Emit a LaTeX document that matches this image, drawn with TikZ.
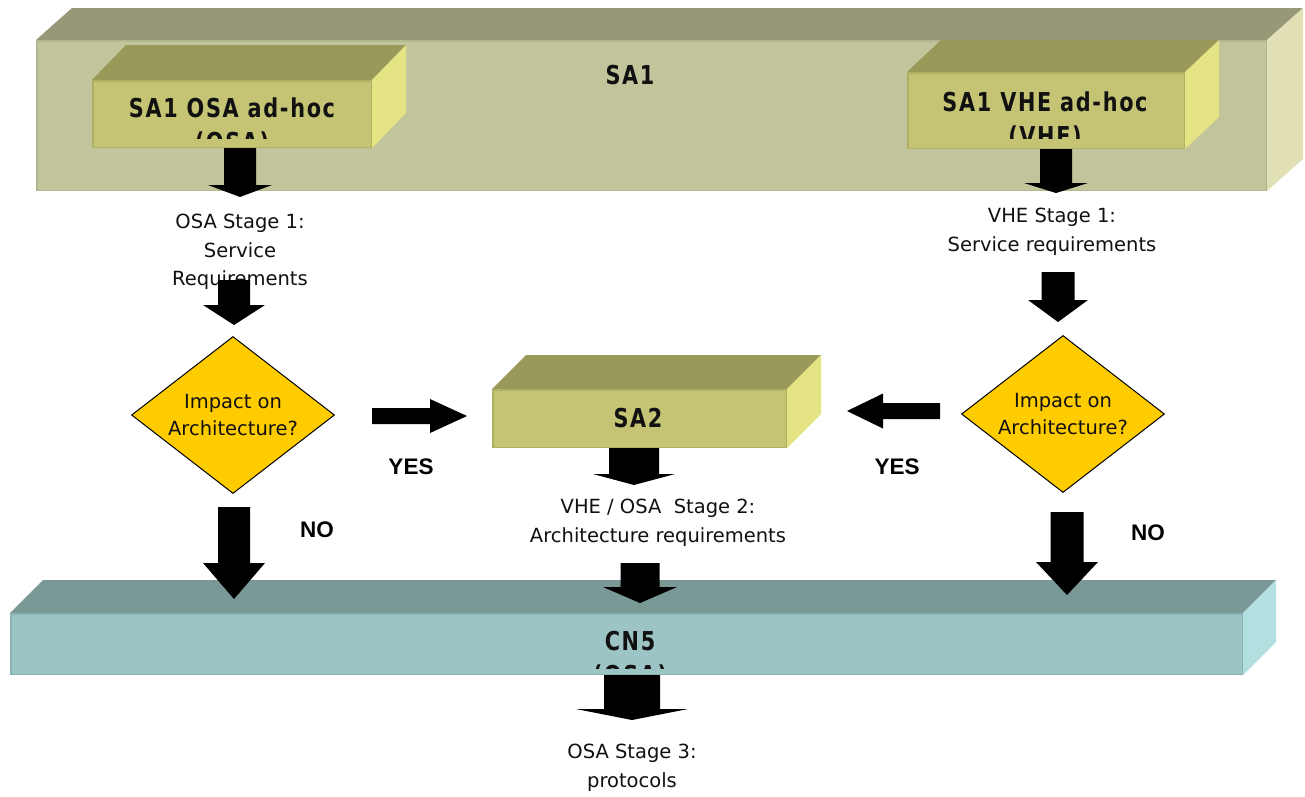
\documentclass[tikz,border=0pt]{standalone}
\usepackage{fontspec}
\setmainfont{DejaVu Sans}
\newfontfamily\lblfont{DejaVu Sans Bold}[LetterSpace=8]
\newfontfamily\yesfont{Liberation Sans Bold}
\usetikzlibrary{shapes.geometric,calc}
\definecolor{satop}{HTML}{989878}
\definecolor{safront}{HTML}{C2C49C}
\definecolor{saside}{HTML}{E0E0B4}
\definecolor{satedge}{HTML}{B4B690}
\definecolor{intop}{HTML}{99995A}
\definecolor{infront}{HTML}{C4C474}
\definecolor{inside}{HTML}{E4E484}
\definecolor{inedge}{HTML}{B0B062}
\definecolor{cntop}{HTML}{7A9896}
\definecolor{cnfront}{HTML}{9CC4C4}
\definecolor{cnside}{HTML}{B2E0E0}
\definecolor{cnedge}{HTML}{8AB2B2}
\definecolor{decision}{HTML}{FFCC00}
\definecolor{txt}{HTML}{111111}
% cuboid: #1 x1, #2 y1, #3 x2, #4 y2 (front face), #5 dx, #6 dy, #7 colour prefix
\newcommand\cuboid[7]{%
  \fill[#7top] (#1,#2) -- (#1+#5,#2-#6) -- (#3+#5,#2-#6) -- (#3,#2) -- cycle;
  \fill[#7side] (#3,#2) -- (#3+#5,#2-#6) -- (#3+#5,#4-#6) -- (#3,#4) -- cycle;
  \fill[#7front] (#1,#2) rectangle (#3,#4);
  \draw[#7edge, line width=1.5pt] (#1+0.75,#2+0.75) rectangle (#3-0.75,#4-0.75);
}
% block arrow from coordinate #1 to tip #2, shaft half-width #3, head half-width #4, head length #5
\newcommand\blockarrow[5]{%
  \path let \p1=(#1), \p2=(#2) in \pgfextra{%
    \pgfmathsetmacro\baang{atan2(\y2-\y1,\x2-\x1)}%
    \pgfmathsetmacro\balen{veclen(\x2-\x1,\y2-\y1)}%
    \xdef\BAang{\baang}\xdef\BAlen{\balen}};
  \fill[black, shift={(#1)}, x=1pt, y=1pt, rotate=\BAang]
    (0,-#3) -- (\BAlen-#5,-#3) -- (\BAlen-#5,-#4) -- (\BAlen,0)
    -- (\BAlen-#5,#4) -- (\BAlen-#5,#3) -- (0,#3) -- cycle;
}
\tikzset{
  sa1top/.style={fill=satop}, sa1side/.style={fill=saside}, sa1front/.style={fill=safront}, sa1edge/.style={draw=satedge},
  intop/.style={fill=intop}, inside/.style={fill=inside}, infront/.style={fill=infront}, inedge/.style={draw=inedge},
  cntop/.style={fill=cntop}, cnside/.style={fill=cnside}, cnfront/.style={fill=cnfront}, cnedge/.style={draw=cnedge},
  boxlabel/.style={anchor=base, inner sep=0pt, text=txt, font=\lblfont\fontsize{26}{30}\selectfont},
  bodytext/.style={align=center, inner sep=0pt, text=txt, font=\fontsize{19.5}{28.5}\selectfont},
  decide/.style={diamond, draw=black, line width=1pt, fill=decision, aspect=1.3, inner sep=0pt,
    minimum width=203pt, minimum height=157pt, align=center, text=txt, font=\fontsize{19.5}{27}\selectfont},
  yesno/.style={inner sep=0pt, font=\yesfont\fontsize{22.5}{24}\selectfont},
}
\newcommand\lbl[1]{\scalebox{0.8}[1]{#1}}
\begin{document}
\begin{tikzpicture}[x=1pt,y=-1pt]
\useasboundingbox (0,0) rectangle (1305,796);
\fill[white] (0,0) rectangle (1305,796);

% SA1 big slab
\cuboid{36}{40}{1267}{191}{36}{32}{sa1}
\node[boxlabel] (sa1) at (630,84) {\lbl{SA1}};

% SA1 OSA ad-hoc
\cuboid{92}{80}{372}{148}{34}{35}{in}
\begin{scope}
  \clip (92,80) rectangle (372,138);
  \node[boxlabel] (osa) at (232,117) {\lbl{SA1 OSA ad-hoc}};
  \node[boxlabel] (osa2) at (232,151) {\lbl{(OSA)}};
\end{scope}

% SA1 VHE ad-hoc
\cuboid{907}{72}{1185}{149}{34}{32}{in}
\begin{scope}
  \clip (907,72) rectangle (1185,138);
  \node[boxlabel] (vhe) at (1045,111) {\lbl{SA1 VHE ad-hoc}};
  \node[boxlabel] (vhe2) at (1045,145) {\lbl{(VHE)}};
\end{scope}

% SA2
\cuboid{492}{389}{787}{448}{34}{34}{in}
\node[boxlabel] (sa2) at (638,427) {\lbl{SA2}};

% CN5
\cuboid{10}{613}{1243}{675}{33}{33}{cn}
\begin{scope}
  \clip (10,613) rectangle (1243,668);
  \node[boxlabel] (cn5) at (630,650) {\lbl{CN5}};
  \node[boxlabel] (cn52) at (630,684) {\lbl{(OSA)}};
\end{scope}

% texts
\node[bodytext] (osas1) at (240,252) {OSA Stage 1:\\Service\\Requirements};
\node[bodytext] (vhes1) at (1052,232) {VHE Stage 1:\\Service requirements};
\node[bodytext] (stage2) at (658,523) {VHE / OSA\ \ Stage 2:\\Architecture requirements};
\node[bodytext] (stage3) at (632,768) {OSA Stage 3:\\protocols};

% decisions
\node[decide] (dl) at (233,415) {Impact on\\Architecture?};
\node[decide] (dr) at (1063,414) {Impact on\\Architecture?};

% labels
\node[yesno] (yesl) at (411,467) {YES};
\node[yesno] (yesr) at (897,467) {YES};
\node[yesno] (nol) at (317,530) {NO};
\node[yesno] (nor) at (1148,533) {NO};

% arrow end points
\coordinate (a1s) at (240,148); \coordinate (a1e) at (240,197);
\coordinate (a2s) at (234,280); \coordinate (a2e) at (234,325);
\coordinate (a3s) at (234,507); \coordinate (a3e) at (234,599);
\coordinate (a4s) at (1056,149); \coordinate (a4e) at (1056,193);
\coordinate (a5s) at (1058,272); \coordinate (a5e) at (1058,322);
\coordinate (a6s) at (1067,512); \coordinate (a6e) at (1067,595);
\coordinate (a7s) at (634,448); \coordinate (a7e) at (634,485);
\coordinate (a8s) at (640,563); \coordinate (a8e) at (640,603);
\coordinate (a9s) at (632,675); \coordinate (a9e) at (632,720);
\coordinate (h1s) at (372,416); \coordinate (h1e) at (467,416);
\coordinate (h2s) at (940,411); \coordinate (h2e) at (847,411);

\blockarrow{a1s}{a1e}{16}{32}{12}
\blockarrow{a2s}{a2e}{16}{31}{20}
\blockarrow{a3s}{a3e}{16}{31}{36}
\blockarrow{a4s}{a4e}{16}{32}{10}
\blockarrow{a5s}{a5e}{16.5}{30}{22}
\blockarrow{a6s}{a6e}{16.5}{31}{33}
\blockarrow{a7s}{a7e}{25}{41}{11}
\blockarrow{a8s}{a8e}{19.5}{37}{16}
\blockarrow{a9s}{a9e}{28}{56}{11}
\blockarrow{h1s}{h1e}{8}{17}{37}
\blockarrow{h2s}{h2e}{8}{17.5}{36}
\end{tikzpicture}
\end{document}
